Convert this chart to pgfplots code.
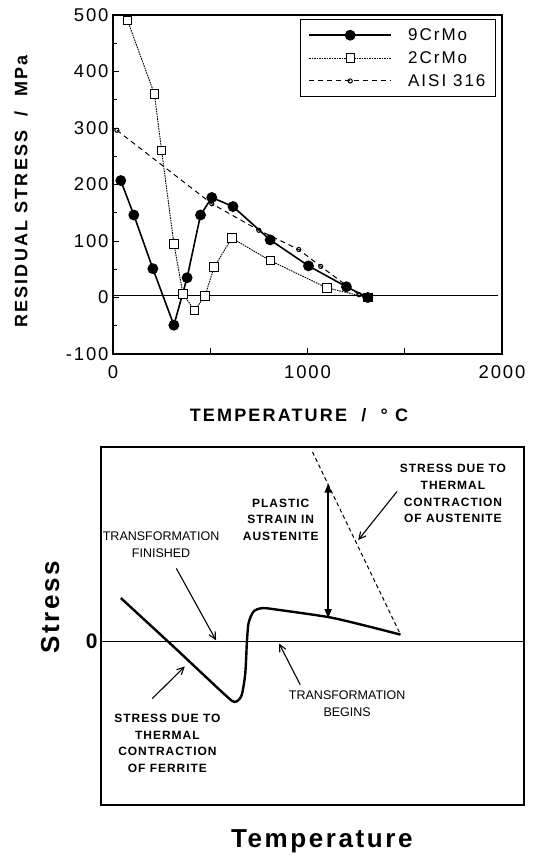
\documentclass[border=0pt]{standalone}
\usepackage{fontspec}
\setmainfont{Liberation Sans}
\newfontfamily\lsA[LetterSpace=10]{Liberation Sans}
\newfontfamily\lsB[LetterSpace=12]{Liberation Sans}
\newfontfamily\lsC[LetterSpace=12]{Liberation Sans}
\newfontfamily\lsD[LetterSpace=8]{Liberation Sans}
\newfontfamily\lsE[LetterSpace=10]{Liberation Sans}
\usepackage{pgfplots}
\pgfplotsset{compat=1.18}
\usetikzlibrary{arrows.meta}
\begin{document}
\begin{tikzpicture}[x=1pt,y=1pt]
\path (0,0) rectangle (543,-858);
% ---------------- top chart ----------------
\begin{axis}[
  at={(113pt,-354pt)}, anchor=south west,
  scale only axis, width=389pt, height=339pt,
  xmin=0, xmax=2000, ymin=-100, ymax=500,
  xtick={0,500,1000,1500,2000}, xticklabels={0,,1000,,2000},
  ytick={-100,0,100,200,300,400,500}, yticklabels={-100,0,100,200,300,400,500},
  minor ytick={-50,50,150,250,350,450},
  tick pos=left, tick align=inside,
  major tick length=6pt, minor tick length=4pt,
  axis line style={line width=1.1pt},
  every tick/.style={line width=1pt, black},
  /pgf/number format/assume math mode=true,
  ticklabel style={font=\fontsize{18.5}{20}\lsA},
  xticklabel style={yshift=-8pt},
  yticklabel style={xshift=-1pt},
  xlabel={TEMPERATURE\ \ /\ \ °\ C},
  ylabel={RESIDUAL STRESS\ \ /\ \ MPa},
  xlabel style={at={(axis description cs:0.478,-0.18)}, anchor=center, font=\fontsize{18}{20}\lsB\bfseries},
  ylabel style={at={(axis description cs:-0.2365,0.479)}, anchor=center, font=\fontsize{18}{20}\lsB\bfseries},
  legend style={at={(rel axis cs:0.9846,0.9882)}, anchor=north east, draw=black, line width=1.1pt,
     font=\fontsize{17}{18}\lsC, inner xsep=8pt, inner ysep=7pt, row sep=5.5pt,
     legend cell align=left,
     /tikz/every odd column/.append style={column sep=14pt}},
  legend image code/.code={\draw[mark repeat=2,mark phase=2] plot coordinates {(0pt,0pt) (41pt,0pt) (82pt,0pt)};},
  clip=false
]
\addplot[black, line width=1.6pt, mark=*, mark size=4.6pt, mark options={solid, fill=black}]
 coordinates {(40,207) (107,146) (205,51) (313,-49) (381,35) (450,146) (508,177) (617,161) (808,102) (1005,56) (1200,19) (1310,0)};
\addlegendentry{9CrMo}
\addplot[black, line width=0.9pt, dash pattern=on 1.6pt off 0.9pt, mark=square*, mark size=4.2pt, mark options={solid, fill=white, line width=1pt}]
 coordinates {(75,490) (213,360) (250,260) (313,95) (360,6) (420,-23) (473,3) (520,54) (611,105) (810,65) (1100,17) (1310,0)};
\addlegendentry{2CrMo}
\addplot[black, line width=1pt, dash pattern=on 5pt off 4pt, mark=o, mark size=2.1pt, mark options={solid, fill=white, line width=1pt}]
 coordinates {(20,296) (508,166) (750,119) (955,85) (1068,55) (1265,5) (1300,0)};
\addlegendentry{AISI 316}
\addplot[black, line width=1.2pt, forget plot] coordinates {(0,3) (1980,3)};
\addplot[black, mark=square*, mark size=4pt, only marks, forget plot] coordinates {(1310,0)};
\end{axis}
% ---------------- bottom chart ----------------
\begin{axis}[
  at={(101pt,-805pt)}, anchor=south west,
  scale only axis, width=423pt, height=358pt,
  xmin=0, xmax=100, ymin=-45.7, ymax=54.3,
  xtick=\empty, ytick={0}, yticklabels={0},
  major tick length=0pt,
  yticklabel style={font=\fontsize{21}{21}\selectfont\bfseries, xshift=0pt},
  axis line style={line width=1.4pt},
  xlabel={Temperature}, ylabel={Stress},
  xlabel style={at={(axis description cs:0.522,-0.1025)}, anchor=center, font=\fontsize{26}{28}\lsE\bfseries},
  ylabel style={at={(axis description cs:-0.12,0.552)}, anchor=center, font=\fontsize{26}{28}\lsE\bfseries},
  clip=false
]
\addplot[black, line width=1pt] coordinates {(0,0) (100,0)};
\addplot[black, line width=2.4pt, smooth, tension=0.45] coordinates {(4.7,12.1) (17,-1.3) (29.3,-14.9) (31.6,-16.9) (33.2,-15.2) (34.1,-9) (34.5,0) (34.9,5.2) (36.1,8.4) (38.2,9.3) (41.4,8.9) (53.7,6.8) (61.8,4.6) (70.8,1.9)};
\addplot[black, line width=1pt, dash pattern=on 4pt off 3pt] coordinates {(50,52.9) (70.8,1.9)};
% arrows
\draw[line width=1.4pt, {Triangle[length=9pt,width=7pt]}-{Triangle[length=9pt,width=7pt]}] (axis cs:53.7,44.1) -- (axis cs:53.7,6.5);
\draw[line width=1.1pt, -{Straight Barb[length=7pt,width=7pt]}] (axis cs:17.8,20.4) -- (axis cs:27.2,0.3);
\draw[line width=1.1pt, -{Straight Barb[length=7pt,width=7pt]}] (axis cs:12.1,-16.0) -- (axis cs:19.8,-7.0);
\draw[line width=1.1pt, -{Straight Barb[length=7pt,width=7pt]}] (axis cs:47.1,-12.1) -- (axis cs:42.1,-0.6);
\draw[line width=1.1pt, -{Straight Barb[length=7pt,width=7pt]}] (axis cs:70.0,41.9) -- (axis cs:60.8,28.3);
% texts
\node[align=center, font=\fontsize{12.5}{16.7}\selectfont] at (axis cs:14.2,27.1) {TRANSFORMATION\\FINISHED};
\node[align=center, font=\fontsize{12}{16.7}\lsD\bfseries] at (axis cs:42.5,34.0) {PLASTIC\\STRAIN IN\\AUSTENITE};
\node[align=center, font=\fontsize{12}{16.7}\lsD\bfseries] at (axis cs:83.2,41.3) {STRESS DUE TO\\THERMAL\\CONTRACTION\\OF AUSTENITE};
\node[align=center, font=\fontsize{12}{16.7}\lsD\bfseries] at (axis cs:15.7,-28.5) {STRESS DUE TO\\THERMAL\\CONTRACTION\\OF FERRITE};
\node[align=center, font=\fontsize{12.5}{16.7}\selectfont] at (axis cs:58.2,-17.4) {TRANSFORMATION\\BEGINS};
\end{axis}
\end{tikzpicture}
\end{document}
